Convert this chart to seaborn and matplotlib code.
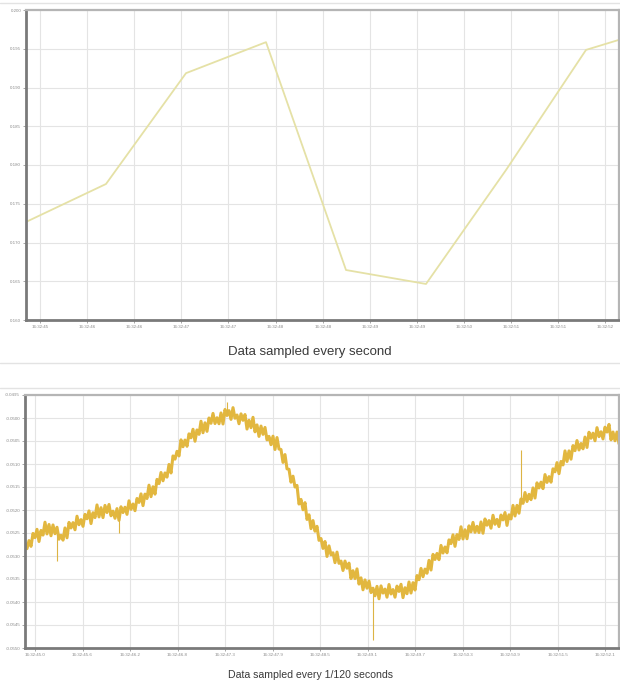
import numpy as np
import pandas as pd
import seaborn as sns
import matplotlib.pyplot as plt
from matplotlib.lines import Line2D

# top chart: one reading per second (values in grid units)
top_values = [2.53, 3.51, 6.37, 7.17, 1.29, 0.93, 3.87, 6.97, 7.60]
top_yticklabels = ["0.160", "0.165", "0.170", "0.175", "0.180",
                   "0.185", "0.190", "0.195", "0.200"]
top_xticklabels = ["16:32:45", "16:32:46", "16:32:46", "16:32:47", "16:32:47",
                   "16:32:48", "16:32:48", "16:32:49", "16:32:49", "16:32:50",
                   "16:32:51", "16:32:51", "16:32:52"]

# bottom chart: dense noisy trace (alternating edges)
bottom_values = [
    4.56, 4.32, 4.67, 4.42, 4.98, 4.80, 5.16, 4.63, 5.11, 4.91, 5.47, 4.96, 5.37,
    4.88, 5.35, 4.97, 5.25, 4.73, 4.90, 4.69, 5.22, 4.79, 5.46, 5.22, 5.45, 5.14,
    5.73, 5.36, 5.58, 5.29, 5.81, 5.62, 5.96, 5.41, 5.88, 5.67, 6.22, 5.70, 6.10,
    5.67, 6.20, 5.89, 6.24, 5.75, 5.95, 5.64, 6.06, 5.55, 6.14, 5.89, 6.12, 5.81,
    6.40, 6.03, 6.26, 5.97, 6.50, 6.33, 6.70, 6.19, 6.69, 6.50, 7.08, 6.58, 7.01,
    6.69, 7.33, 7.15, 7.63, 7.27, 7.61, 7.43, 7.98, 7.61, 8.35, 8.21, 8.55, 8.35,
    9.05, 8.75, 9.04, 8.77, 9.31, 9.14, 9.51, 8.99, 9.48, 9.29, 9.86, 9.36, 9.79,
    9.42, 10.00, 9.77, 10.20, 9.76, 10.01, 9.75, 10.22, 9.74, 10.37, 10.11, 10.32, 9.94,
    10.45, 9.99, 10.13, 9.75, 10.18, 9.90, 10.15, 9.52, 9.90, 9.58, 10.03, 9.40, 9.70,
    9.20, 9.65, 9.29, 9.59, 9.05, 9.20, 8.84, 9.21, 8.63, 9.15, 8.65, 8.63, 8.07,
    8.41, 7.79, 7.77, 7.21, 7.47, 7.00, 7.07, 6.26, 6.46, 6.01, 6.32, 5.59, 5.79,
    5.19, 5.54, 5.08, 5.29, 4.68, 4.76, 4.33, 4.63, 3.98, 4.44, 4.05, 4.14, 3.71,
    4.17, 3.68, 3.78, 3.37, 3.78, 3.47, 3.69, 3.02, 3.36, 3.02, 3.44, 2.78, 3.05,
    2.53, 2.96, 2.60, 2.91, 2.41, 2.60, 2.27, 2.68, 2.14, 2.70, 2.39, 2.56, 2.21,
    2.76, 2.35, 2.54, 2.21, 2.69, 2.46, 2.77, 2.19, 2.62, 2.36, 2.87, 2.39, 2.84,
    2.52, 3.15, 2.97, 3.46, 3.10, 3.43, 3.25, 3.81, 3.39, 4.07, 3.85, 4.11, 3.84,
    4.46, 4.13, 4.39, 4.14, 4.70, 4.54, 4.92, 4.42, 4.93, 4.72, 5.27, 4.74, 5.14,
    4.75, 5.31, 5.05, 5.46, 5.03, 5.29, 5.02, 5.48, 4.99, 5.61, 5.34, 5.54, 5.21,
    5.77, 5.38, 5.59, 5.28, 5.78, 5.57, 5.89, 5.33, 5.79, 5.61, 6.20, 5.74, 6.20,
    5.86, 6.48, 6.29, 6.76, 6.37, 6.68, 6.45, 6.96, 6.52, 7.18, 6.96, 7.21, 6.93,
    7.54, 7.20, 7.45, 7.21, 7.79, 7.66, 8.06, 7.58, 8.11, 7.96, 8.57, 8.11, 8.57,
    8.21, 8.80, 8.58, 9.02, 8.61, 8.89, 8.66, 9.17, 8.72, 9.38, 9.12, 9.34, 9.01,
    9.58, 9.19, 9.40, 9.09, 9.60, 9.39, 9.72, 9.05, 9.39, 9.01, 9.39, 8.88, 9.29,
]
# single-sample glitches in the fast trace (sample index, band value, glitch value)
spike_index = [16, 47, 101, 174, 248]
spike_from = [4.96, 5.90, 10.17, 2.57, 6.26]
spike_to = [3.80, 5.00, 10.70, 0.35, 8.60]

bottom_yticklabels = ["-0.0550", "-0.0545", "-0.0540", "-0.0535", "-0.0530", "-0.0525",
                      "-0.0520", "-0.0515", "-0.0510", "-0.0505", "-0.0500", "-0.0495"]
bottom_xticklabels = ["16:32:45.0", "16:32:45.6", "16:32:46.2", "16:32:46.8",
                      "16:32:47.3", "16:32:47.9", "16:32:48.5", "16:32:49.1",
                      "16:32:49.7", "16:32:50.3", "16:32:50.9", "16:32:51.5",
                      "16:32:52.1"]

step = 0.025
top_df = pd.DataFrame({"t": np.arange(len(top_values)) * 1.0, "v": top_values})
bottom_df = pd.DataFrame({"t": np.arange(len(bottom_values)) * step, "v": bottom_values})

sns.set_style("white")
plt.rcParams["font.family"] = ["Liberation Sans", "DejaVu Sans"]

fig = plt.figure(figsize=(6.2, 6.86), dpi=100)
ax1 = fig.add_axes([26 / 620, 1 - 320 / 686, 593 / 620, 310 / 686])
ax2 = fig.add_axes([25 / 620, 1 - 648 / 686, 594 / 620, 253 / 686])


def style_axes(ax, xticks, xlabels, yticks, ylabels):
    ax.set_xticks(xticks)
    ax.set_xticklabels(xlabels)
    ax.set_yticks(yticks)
    ax.set_yticklabels(ylabels)
    ax.grid(True, color="#e4e4e4", linewidth=0.8)
    ax.tick_params(axis="both", labelsize=3.2, labelcolor="#8a8a8a",
                   length=2, width=0.6, color="#999999", pad=1.5,
                   bottom=True, left=True)
    for side in ["top", "right"]:
        ax.spines[side].set_color("#b5b5b5")
        ax.spines[side].set_linewidth(1.6)
    for side in ["left", "bottom"]:
        ax.spines[side].set_color("#7a7a7a")
        ax.spines[side].set_linewidth(2.0)
    ax.set_xlabel("")
    ax.set_ylabel("")


sns.lineplot(data=top_df, x="t", y="v", ax=ax1, color="#e5e1a6",
             linewidth=1.3, estimator=None, sort=False)
ax1.set_xlim(0, 593 / 80)
ax1.set_ylim(0, 8)
style_axes(ax1, 0.175 + np.arange(13) * 0.589, top_xticklabels,
           np.arange(9), top_yticklabels)

sns.lineplot(data=bottom_df, x="t", y="v", ax=ax2, color="#e2b73f",
             linewidth=2.2, estimator=None, sort=False)
ax2.vlines(np.array(spike_index) * step, spike_from, spike_to,
           color="#dcb444", linewidth=0.8)
ax2.set_xlim(0, 594 / 80)
ax2.set_ylim(0, 11)
style_axes(ax2, 0.125 + np.arange(13) * 0.594, bottom_xticklabels,
           np.arange(12), bottom_yticklabels)

# captions and the light panel borders
fig.text(0.5, 1 - 352 / 686, "Data sampled every second", ha="center", va="center",
         fontsize=9.5, color="#3a3a3a")
fig.text(0.5, 1 - 675 / 686, "Data sampled every 1/120 seconds", ha="center", va="center",
         fontsize=7.6, color="#3a3a3a")
for ypix in [3, 363, 388]:
    fig.add_artist(Line2D([0.0, 1.0], [1 - ypix / 686] * 2, color="#e3e3e3", linewidth=1.0))

fig.savefig("out.png", dpi=100, facecolor="white")
